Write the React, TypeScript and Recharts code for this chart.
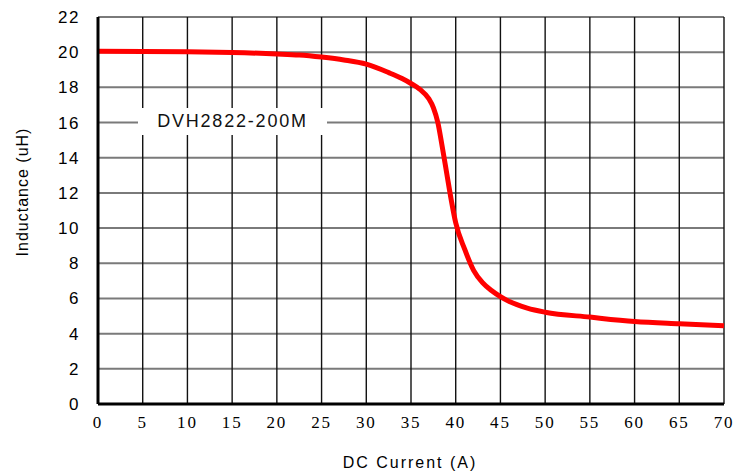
import React from 'react';
import {
  LineChart,
  Line,
  XAxis,
  YAxis,
  CartesianGrid,
  Legend,
} from 'recharts';

const currentA = [0, 5, 10, 15, 20, 22.5, 25, 27.5, 30, 32.5, 34, 35, 36, 37, 37.5, 38, 38.5, 39, 39.5, 40, 41, 42, 43, 44, 45, 46, 48, 50, 55, 60, 65, 70];
const inductanceUH = [20.05, 20.04, 20.02, 19.98, 19.9, 19.84, 19.72, 19.56, 19.32, 18.84, 18.5, 18.22, 17.88, 17.35, 16.85, 16.0, 14.6, 13.1, 11.6, 10.3, 8.8, 7.6, 6.9, 6.45, 6.1, 5.82, 5.45, 5.22, 4.94, 4.69, 4.56, 4.45];
const xTicks = [0, 5, 10, 15, 20, 25, 30, 35, 40, 45, 50, 55, 60, 65, 70];
const yTicks = [0, 2, 4, 6, 8, 10, 12, 14, 16, 18, 20, 22];
const seriesName = 'DVH2822-200M';

const chartData = currentA.map((c, i) => ({ current: c, inductance: inductanceUH[i] }));

const LegendBox = () => (
  <div
    style={{
      width: 189,
      height: 27,
      background: '#fff',
      display: 'flex',
      alignItems: 'center',
      justifyContent: 'center',
      fontFamily: 'Arial, "Liberation Sans", sans-serif',
      fontSize: 18,
      letterSpacing: 1.8,
      color: '#111',
    }}
  >
    {seriesName}
  </div>
);

const YLabel = () => (
  <text
    x={22}
    y={192}
    transform="rotate(-90 22 192)"
    textAnchor="middle"
    dominantBaseline="central"
    fontFamily='Arial, "Liberation Sans", sans-serif'
    fontSize={16}
    letterSpacing={1}
    fill="#000"
  >
    Inductance (uH)
  </text>
);

const XLabel = () => (
  <text
    x={410}
    y={468}
    textAnchor="middle"
    fontFamily='Arial, "Liberation Sans", sans-serif'
    fontSize={16}
    letterSpacing={2}
    fill="#000"
  >
    DC Current (A)
  </text>
);

export default function App() {
  return (
    <div style={{ position: 'absolute', left: 0, top: 0, width: 747, height: 471, background: '#fff' }}>
      <LineChart width={747} height={471} data={chartData} margin={{ top: 17, right: 23, left: 0, bottom: 0 }}>
        <CartesianGrid horizontal={true} vertical={false} stroke="#7a7a7a" strokeWidth={2} />
        <CartesianGrid horizontal={false} vertical={true} stroke="#111" strokeWidth={1.4} />
        <XAxis
          dataKey="current"
          type="number"
          domain={[0, 70]}
          ticks={xTicks}
          height={67}
          axisLine={{ stroke: '#000', strokeWidth: 3 }}
          tickLine={false}
          tickSize={6}
          tickMargin={6}
          tick={{ fill: '#000', fontSize: 17, fontFamily: '"Liberation Serif", "Times New Roman", serif', letterSpacing: 1.8 }}
          label={{ content: <XLabel /> }}
        />
        <XAxis
          xAxisId="top"
          orientation="top"
          type="number"
          domain={[0, 70]}
          height={0}
          tick={false}
          tickLine={false}
          axisLine={{ stroke: '#000', strokeWidth: 3 }}
        />
        <YAxis
          type="number"
          domain={[0, 22]}
          ticks={yTicks}
          width={98}
          axisLine={{ stroke: '#000', strokeWidth: 3 }}
          tickLine={false}
          tickSize={6}
          tickMargin={12}
          tick={{ fill: '#000', fontSize: 17, fontFamily: 'Arial, "Liberation Sans", sans-serif', letterSpacing: 1.5 }}
          label={{ content: <YLabel /> }}
        />
        <YAxis
          yAxisId="right"
          orientation="right"
          type="number"
          domain={[0, 22]}
          width={0}
          tick={false}
          tickLine={false}
          axisLine={{ stroke: '#000', strokeWidth: 3 }}
        />
        <Legend
          layout="vertical"
          align="center"
          verticalAlign="middle"
          content={<LegendBox />}
          wrapperStyle={{ left: 138, top: 108, width: 189, height: 27 }}
        />
        <Line
          type="monotone"
          dataKey="inductance"
          name={seriesName}
          stroke="#ff0000"
          strokeWidth={5}
          dot={false}
          isAnimationActive={false}
        />
      </LineChart>
    </div>
  );
}
